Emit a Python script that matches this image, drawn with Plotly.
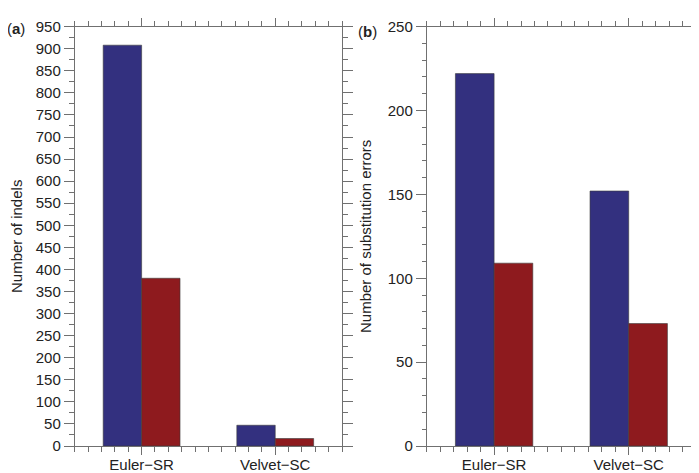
import plotly.graph_objects as go

categories = ["Euler\u2212SR", "Velvet\u2212SC"]
indels_blue = [908, 47]
indels_red = [380, 17]
subs_blue = [222, 152]
subs_red = [109, 73]

BLUE = "#33307f"
RED = "#8e1a1e"
AX = "#707070"
FONT = "Liberation Sans, Arial, Helvetica, sans-serif"

xpos = list(range(len(categories)))

fig = go.Figure()
for xa, ya, b, r in [("x", "y", indels_blue, indels_red), ("x2", "y2", subs_blue, subs_red)]:
    fig.add_trace(go.Bar(x=xpos, y=b, marker=dict(color=BLUE, line=dict(color="#3a3a3a", width=0.6)),
                         xaxis=xa, yaxis=ya, showlegend=False, offsetgroup="1"))
    fig.add_trace(go.Bar(x=xpos, y=r, marker=dict(color=RED, line=dict(color="#3a3a3a", width=0.6)),
                         xaxis=xa, yaxis=ya, showlegend=False, offsetgroup="2"))

W, H = 699, 473
def px(x):
    return x / W
def py(y):
    return 1 - y / H

common_x = dict(range=[-0.5, 1.5], tickvals=xpos, ticktext=categories, ticks="outside", ticklen=8,
                tickcolor=AX, linecolor=AX, linewidth=1, showline=True, mirror="ticks", showgrid=False,
                zeroline=False, tickfont=dict(size=15, color="#222"), ticklabelstandoff=-3,
                minor=dict(dtick=0.1, tick0=0, ticks="outside", ticklen=5, tickcolor=AX, showgrid=False))
common_y = dict(ticks="outside", ticklen=10, tickcolor=AX, linecolor=AX, linewidth=1, showline=True,
                mirror="ticks", showgrid=False, zeroline=False, tickfont=dict(size=15, color="#222"),
                dtick=50, title_font=dict(size=15, color="#222"))
minor_a = dict(dtick=25, ticks="outside", ticklen=5, tickcolor=AX, showgrid=False)
minor_b = dict(dtick=10, ticks="outside", ticklen=4, tickcolor=AX, showgrid=False)

fig.update_layout(
    width=W, height=H, margin=dict(l=0, r=0, t=0, b=0),
    paper_bgcolor="white", plot_bgcolor="white",
    font=dict(family=FONT, size=15, color="#222"),
    barmode="group", bargap=0.425, bargroupgap=0,
    xaxis=dict(common_x, domain=[px(67), px(335)], anchor="y"),
    yaxis=dict(common_y, domain=[py(445), py(10)], range=[0, 950], anchor="x", minor=minor_a,
               title=dict(text="Number of indels", standoff=11)),
    xaxis2=dict(common_x, domain=[px(420), px(690)], anchor="y2"),
    yaxis2=dict(common_y, domain=[py(445), py(10)], range=[0, 250], anchor="x2", minor=minor_b,
                title=dict(text="Number of substitution errors", standoff=12)),
    annotations=[
        dict(text="(<b>a</b>)", x=px(-3), y=py(12), xref="paper", yref="paper", xanchor="left",
             yanchor="middle", showarrow=False, font=dict(size=15)),
        dict(text="(<b>b</b>)", x=px(349), y=py(15), xref="paper", yref="paper", xanchor="left",
             yanchor="middle", showarrow=False, font=dict(size=15)),
    ],
)

fig.write_html("out.html")
